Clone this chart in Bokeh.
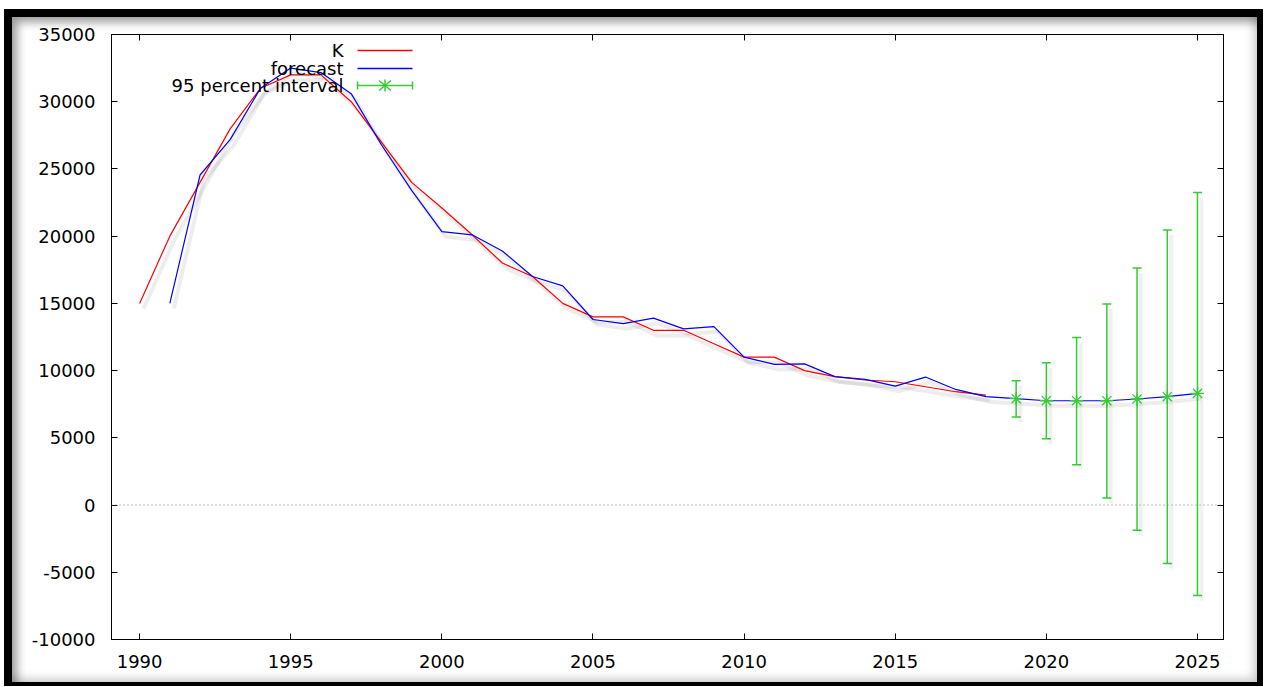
from bokeh.plotting import figure
from bokeh.models import (ColumnDataSource, Whisker, TeeHead, Span, LinearAxis,
                          SingleIntervalTicker, Label, PolyAnnotation, Range1d,
                          PrintfTickFormatter)
from bokeh.embed import file_html
from bokeh.resources import INLINE
from bokeh.transform import dodge

# ---------------- data ----------------
years_k = list(range(1990, 2019))
k_values = [15000, 20000, 24000, 28000, 31000, 32000, 32000, 30000, 27000, 24000,
            22100, 20100, 18000, 17000, 15000, 14000, 14000, 13000, 13000, 12000,
            11000, 11000, 10000, 9550, 9300, 9170, 8800, 8430, 8180]

years_fc = list(range(1991, 2026))
fc_values = [15000, 24550, 27200, 31000, 32500, 32170, 30600, 26800, 23400, 20340,
             20100, 18900, 17000, 16300, 13800, 13500, 13900, 13100, 13270, 11000,
             10470, 10500, 9550, 9350, 8850, 9520, 8600, 8060,
             7910, 7760, 7760, 7760, 7890, 8060, 8310]

years_int = list(range(2019, 2026))
int_lower = [6550, 4930, 3000, 520, -1880, -4340, -6720]
int_upper = [9250, 10590, 12470, 14960, 17630, 20460, 23240]

x_ticks_interval = 5
y_ticks_interval = 5000

legend_labels = ["K", "forecast", "95 percent interval"]

RED = "#ff0000"
BLUE = "#0000ff"
GREEN = "#33cc33"
FONT = "DejaVu Sans"
FS = "18px"

# host box: page x 4..1263, y 9..686 ; canvas starts inside the border at (12, 17)
W, H = 1259, 677
ML, MT, MR, MB = 99, 17, 48, 55

# ---------------- figure ----------------
p = figure(width=W, height=H, output_backend="svg", toolbar_location=None,
           x_range=Range1d(1989.07, 2025.86), y_range=Range1d(-10000, 35000),
           min_border_left=ML, min_border_top=MT, min_border_right=MR, min_border_bottom=MB,
           background_fill_color="white", border_fill_color=None)
p.styles = {"margin": "9px 0px 0px 4px",
            "border-style": "solid", "border-color": "black",
            "border-width": "8px 6px 4px 8px",
            "background-color": "white",
            "overflow": "hidden",
            "box-shadow": "inset 7px 7px 10px -2px rgba(0,0,0,0.40), inset -6px -6px 10px -3px rgba(0,0,0,0.22)"}

p.grid.visible = False
p.outline_line_color = "black"
p.outline_line_width = 1

for ax in (p.xaxis[0], p.yaxis[0]):
    ax.axis_line_color = "black"
    ax.major_tick_line_color = "black"
    ax.major_tick_in = 6
    ax.major_tick_out = 0
    ax.minor_tick_line_color = None
    ax.major_label_text_font = FONT
    ax.major_label_text_font_size = FS
    ax.major_label_text_color = "black"
p.xaxis[0].ticker = SingleIntervalTicker(interval=x_ticks_interval)
p.yaxis[0].ticker = SingleIntervalTicker(interval=y_ticks_interval)
p.yaxis[0].formatter = PrintfTickFormatter(format="%d")
p.xaxis[0].major_label_standoff = 11
p.yaxis[0].major_label_standoff = 12

top_ax = LinearAxis(ticker=SingleIntervalTicker(interval=x_ticks_interval),
                    major_tick_in=6, major_tick_out=0, minor_tick_line_color=None,
                    major_label_text_color=None, major_label_text_font_size="1px",
                    axis_line_color="black")
right_ax = LinearAxis(ticker=SingleIntervalTicker(interval=y_ticks_interval),
                      major_tick_in=6, major_tick_out=0, minor_tick_line_color=None,
                      major_label_text_color=None, major_label_text_font_size="1px",
                      axis_line_color="black")
p.add_layout(top_ax, "above")
p.add_layout(right_ax, "right")

# zero line
p.add_layout(Span(location=0, dimension="width", line_color="#808080",
                  line_dash="1 3", line_width=1))

# ---------------- series ----------------
src_k = ColumnDataSource(dict(x=years_k, y=k_values))
src_fc = ColumnDataSource(dict(x=years_fc, y=fc_values))
n = len(years_int)
src_int = ColumnDataSource(dict(x=years_int, lower=int_lower, upper=int_upper,
                                y=fc_values[-n:]))

# soft drop shadows
for s in (src_k, src_fc):
    p.line(x=dodge("x", 0.13, range=p.x_range), y=dodge("y", -380, range=p.y_range),
           source=s, line_color="black", line_alpha=0.07, line_width=4)
p.segment(x0=dodge("x", 0.13, range=p.x_range), x1=dodge("x", 0.13, range=p.x_range),
          y0=dodge("lower", -380, range=p.y_range), y1=dodge("upper", -380, range=p.y_range),
          source=src_int, line_color="black", line_alpha=0.06, line_width=4)

p.line("x", "y", source=src_k, line_color=RED, line_width=1.2)
p.line("x", "y", source=src_fc, line_color=BLUE, line_width=1.2)

wh = Whisker(base="x", lower="lower", upper="upper", source=src_int,
             line_color=GREEN, line_width=1.5,
             upper_head=TeeHead(size=9, line_color=GREEN, line_width=1.5),
             lower_head=TeeHead(size=9, line_color=GREEN, line_width=1.5))
p.add_layout(wh)
p.scatter("x", "y", source=src_int, marker="asterisk", size=13,
          line_color=GREEN, line_width=1.3)

# ---------------- legend (gnuplot style: text left, sample right) ----------------
leg_y = [589, 571, 554]
text_right = 232
sx0, sx1 = 246, 301
for lab, yy in zip(legend_labels, leg_y):
    p.add_layout(Label(x=text_right, y=yy, x_units="screen", y_units="screen",
                       text=lab, text_align="right", text_baseline="middle",
                       text_font=FONT, text_font_size=FS, text_color="black"))

def seg(xs, ys, color, w=1.3):
    p.add_layout(PolyAnnotation(xs=xs, ys=ys, xs_units="screen", ys_units="screen",
                                line_color=color, line_alpha=1.0, line_width=w,
                                fill_alpha=0))

seg([sx0, sx1], [leg_y[0], leg_y[0]], RED)
seg([sx0, sx1], [leg_y[1], leg_y[1]], BLUE)
gy = leg_y[2]
seg([sx0, sx1], [gy, gy], GREEN, 1.5)
seg([sx0, sx0], [gy - 4, gy + 4], GREEN, 1.5)
seg([sx1, sx1], [gy - 4, gy + 4], GREEN, 1.5)
cx = (sx0 + sx1) / 2
seg([cx, cx], [gy - 6, gy + 6], GREEN, 1.5)
seg([cx - 6, cx + 6], [gy - 5, gy + 5], GREEN, 1.5)
seg([cx - 6, cx + 6], [gy + 5, gy - 5], GREEN, 1.5)

open("out.html", "w").write(file_html(p, INLINE))
